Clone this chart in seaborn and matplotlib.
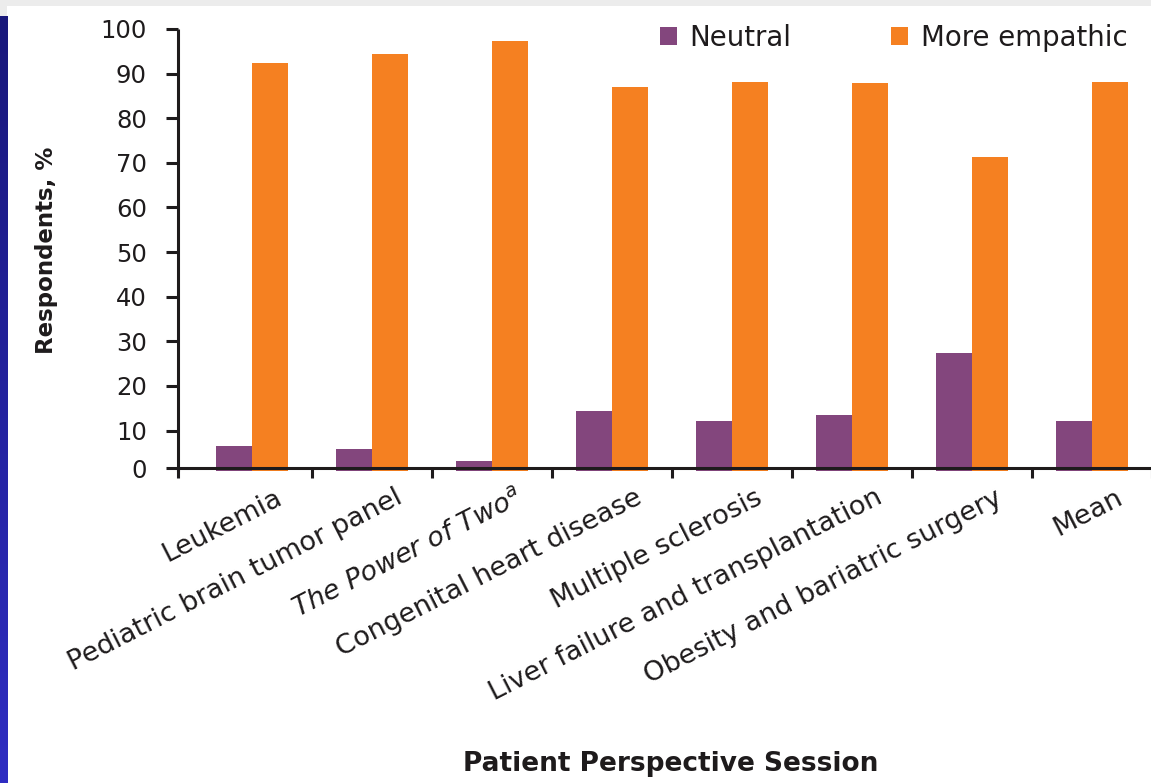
import numpy as np
import pandas as pd
import matplotlib
matplotlib.use("Agg")
import matplotlib.pyplot as plt
from matplotlib.patches import Rectangle
from matplotlib.colors import LinearSegmentedColormap
from matplotlib.transforms import ScaledTranslation
import seaborn as sns

# Survey results per patient perspective session (% of respondents)
sessions = [
    "Leukemia",
    "Pediatric brain tumor panel",
    "The Power of Two$^a$",
    "Congenital heart disease",
    "Multiple sclerosis",
    "Liver failure and transplantation",
    "Obesity and bariatric surgery",
    "Mean",
]
neutral = [6.6, 5.8, 3.2, 14.5, 12.2, 13.6, 27.4, 12.1]
more_empathic = [92.3, 94.3, 97.2, 87.0, 88.2, 87.8, 71.3, 88.2]
series_names = ["Neutral", "More empathic"]
y_tick_values = [10, 20, 30, 40, 50, 60, 70, 80, 90, 100]

PURPLE = "#83467D"
ORANGE = "#F58021"
INK = "#1E1B1C"

df = pd.DataFrame({
    "session": sessions * 2,
    "pct": neutral + more_empathic,
    "response": [series_names[0]] * len(sessions) + [series_names[1]] * len(sessions),
})

sns.set_style("ticks")
plt.rcParams["font.family"] = ["DejaVu Sans"]
plt.rcParams["text.color"] = INK
plt.rcParams["axes.edgecolor"] = INK
plt.rcParams["xtick.color"] = INK
plt.rcParams["ytick.color"] = INK
plt.rcParams["axes.labelcolor"] = INK

W, H = 1151, 783
fig = plt.figure(figsize=(W / 100, H / 100), dpi=100)
fig.patch.set_facecolor("#ECECEC")

# white page area and the blue side band
fig.patches.append(Rectangle((7 / W, 0), 1 - 7 / W, (H - 6) / H,
                             transform=fig.transFigure, facecolor="white",
                             edgecolor="none", zorder=-10))
band = fig.add_axes([0, 0, 7 / W, (H - 16) / H], zorder=-5)
band_cmap = LinearSegmentedColormap.from_list("band", ["#2F2DC2", "#19187B"])
band.imshow(np.linspace(0, 1, 256).reshape(-1, 1), cmap=band_cmap,
            aspect="auto", origin="lower")
band.axis("off")

ax = fig.add_axes([178 / W, 1 - 471.0 / H, 974 / W, 442.0 / H])
ax.set_facecolor("white")

sns.barplot(data=df, x="session", y="pct", hue="response",
            palette=[PURPLE, ORANGE], saturation=1, width=0.6,
            linewidth=0, ax=ax, order=sessions, hue_order=series_names)

ax.set_xlim(-0.617, 7.5)
ax.set_ylim(0.95, 100)

# axes frame
for side in ("top", "right"):
    ax.spines[side].set_visible(False)
base = 1.6
ax.spines["bottom"].set_position(("data", base))
for side in ("left", "bottom"):
    ax.spines[side].set_linewidth(2.2)
    ax.spines[side].set_color(INK)
    ax.spines[side].set_capstyle("butt")

# y axis
ax.set_yticks([base] + y_tick_values, ["0"] + [str(v) for v in y_tick_values])
ax.tick_params(axis="y", length=9, width=2.2, pad=13.5, labelsize=17.5,
               direction="out")

# x axis: labels at category centres, tick marks between categories
ax.set_xticks(range(len(sessions)))
ax.set_xticklabels(sessions, rotation=27, ha="right", va="top",
                   rotation_mode="anchor", fontsize=19.5)
ax.tick_params(axis="x", which="major", length=0, pad=12)
ax.set_xticks([-0.617] + list(np.arange(0.5, len(sessions), 1.0)), minor=True)
ax.tick_params(axis="x", which="minor", length=7.5, width=2.2, direction="out")
shift = ScaledTranslation(0.23, 0, fig.dpi_scale_trans)
for i, lab in enumerate(ax.get_xticklabels()):
    lab.set_transform(lab.get_transform() + shift)
    if i == 2:
        lab.set_style("italic")

# axis titles
ax.set_xlabel("Patient Perspective Session", fontsize=19, fontweight="bold")
ax.xaxis.set_label_coords(670.5 / W, 1 - 764 / H, transform=fig.transFigure)
ax.xaxis.label.set_va("center")
ax.set_ylabel("Respondents, %", fontsize=16.5, fontweight="bold")
ax.yaxis.set_label_coords(47 / W, 1 - 250 / H, transform=fig.transFigure)
ax.yaxis.label.set_va("center")

# legend across the top
handles, labels = ax.get_legend_handles_labels()
if ax.get_legend() is not None:
    ax.get_legend().remove()
fig.legend(handles, labels, ncol=2, loc="center left",
           bbox_to_anchor=(660 / W, 1 - 38 / H), bbox_transform=fig.transFigure,
           frameon=False, fontsize=19.9, handlelength=0.62, handleheight=0.62,
           handletextpad=0.45, columnspacing=3.6, borderpad=0, borderaxespad=0)

fig.savefig("out.png", dpi=100, facecolor=fig.get_facecolor())
